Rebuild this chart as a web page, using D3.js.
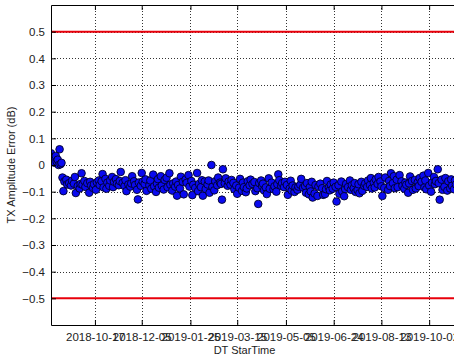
<!DOCTYPE html>
<html>
<head>
<meta charset="utf-8">
<script src="https://cdn.jsdelivr.net/npm/d3@7"></script>
<style>
  html, body { margin: 0; padding: 0; background: #fff; }
  svg { display: block; }
  text { font-family: "Liberation Sans", Arial, Helvetica, sans-serif; fill: #222; }
</style>
</head>
<body>
<svg id="chart" width="454" height="357"></svg>
<script>
// Daily TX amplitude error readings (dB) from the first run date; null = no run that day
const firstRun = "2018-09-01";
const txError = [
  0.044, 0.030, 0.019, 0.025, 0.008, 0.034, 0.012, 0.020, 0.000, 0.059, 0.003, 0.008,
  -0.047, -0.098, -0.062, null, -0.055, -0.073, null, -0.068, null, -0.077,
  -0.059, null, -0.070, -0.045, -0.105, null, -0.079, null, -0.088, -0.071,
  -0.031, -0.074, null, -0.060, -0.082, null, -0.068, null, -0.104, -0.063,
  -0.077, null, -0.086, -0.072, null, -0.093, -0.065, null, -0.058, -0.075,
  null, -0.061, -0.034, -0.084, null, -0.052, -0.089, -0.066, null, -0.078,
  -0.058, null, -0.045, -0.083, -0.063, null, -0.053, -0.070, null, -0.076,
  -0.060, -0.026, null, -0.067, null, -0.079, -0.057, -0.098, null, -0.073,
  null, -0.081, -0.069, -0.042, null, -0.061, -0.075, null, -0.093, -0.129,
  -0.066, null, -0.078, -0.030, -0.062, null, -0.071, -0.054, -0.097, null,
  null, -0.076, -0.058, -0.089, null, -0.036, -0.080, null, -0.101, -0.070,
  -0.053, -0.085, null, -0.042, -0.077, null, -0.092, -0.056, null, -0.048,
  -0.083, null, -0.031, -0.074, null, -0.096, -0.069, null, -0.081, -0.062,
  -0.115, -0.075, null, -0.088, -0.044, null, -0.063, -0.110, null, -0.054,
  -0.067, null, -0.038, -0.081, null, -0.060, -0.113, -0.074, null, -0.086,
  null, -0.030, -0.098, -0.071, null, -0.083, -0.057, -0.115, null, -0.062,
  -0.090, null, -0.073, -0.058, -0.104, null, 0.000, -0.082, null, -0.095,
  -0.061, null, -0.076, -0.047, null, -0.066, -0.071, -0.130, -0.016, null,
  -0.069, -0.050, null, -0.078, -0.062, null, -0.074, -0.056, null, -0.067,
  -0.091, null, -0.077, -0.108, null, -0.085, -0.052, null, -0.097, -0.066,
  -0.083, null, -0.102, -0.088, -0.061, null, -0.076, -0.055, null, -0.071,
  null, -0.064, -0.098, null, -0.087, -0.146, -0.068, null, -0.058, -0.079,
  -0.070, -0.095, null, -0.084, -0.109, null, -0.050, -0.089, null, -0.066,
  null, -0.091, -0.080, null, -0.100, -0.072, -0.035, -0.057, null, -0.078,
  -0.068, null, -0.083, -0.063, null, -0.075, -0.112, null, -0.088, -0.059,
  -0.096, -0.077, null, -0.101, -0.084, null, -0.093, -0.081, null, -0.074,
  -0.052, null, -0.085, null, -0.079, -0.104, -0.068, null, -0.110, -0.083,
  -0.099, -0.063, -0.122, null, -0.107, -0.075, null, -0.116, -0.081, null,
  -0.070, null, -0.087, -0.112, null, -0.109, -0.091, -0.060, null, -0.084,
  -0.095, -0.073, null, -0.089, -0.066, null, -0.082, -0.137, null, -0.076,
  -0.108, null, -0.062, -0.099, null, -0.117, -0.090, -0.071, null, -0.083,
  null, -0.058, -0.093, -0.076, null, -0.087, -0.068, -0.101, null, -0.094,
  -0.072, -0.106, null, -0.063, -0.097, null, -0.078, -0.069, null, -0.082,
  -0.058, null, -0.075, -0.049, -0.088, null, -0.066, -0.084, -0.054, null,
  -0.071, -0.045, null, -0.062, -0.080, -0.116, null, -0.086, -0.047, null,
  null, -0.093, -0.060, -0.079, -0.031, null, -0.068, -0.042, -0.087, null,
  -0.055, -0.083, null, -0.038, null, -0.061, -0.078, null, -0.089, -0.066,
  -0.074, null, -0.104, -0.069, -0.043, null, -0.060, -0.093, null, -0.056,
  -0.088, null, -0.065, -0.079, -0.049, null, -0.063, null, -0.040, -0.084,
  -0.058, -0.091, null, -0.030, -0.077, null, -0.100, -0.066, null, -0.045,
  -0.072, -0.060, null, -0.016, -0.068, -0.130, null, -0.055, -0.093, null,
  -0.082, -0.049, null, -0.096, -0.061, null, -0.088, -0.054, -0.078, null,
  -0.091, -0.058, -0.073
];

// Axis extents, ticks and tolerance limits
const xStart = "2018-09-01";
const xEnd = "2019-10-28";
const xTickLabels = ["2018-10-17", "2018-12-05", "2019-01-25", "2019-03-15",
                     "2019-05-05", "2019-06-24", "2019-08-13", "2019-10-02"];
const yRange = [-0.6, 0.6];
const yTicks = [-0.5, -0.4, -0.3, -0.2, -0.1, 0, 0.1, 0.2, 0.3, 0.4, 0.5];
const limits = [0.5, -0.5];

const parse = d3.utcParse("%Y-%m-%d");
const fmt = d3.utcFormat("%Y-%m-%d");
const day0 = parse(firstRun);
const points = txError
  .map((v, i) => ({ date: d3.utcDay.offset(day0, i), value: v }))
  .filter(d => d.value !== null);

const svg = d3.select("#chart");
const plotL = 51, plotR = 454, plotT = 5, plotB = 325;

const x = d3.scaleUtc().domain([parse(xStart), parse(xEnd)]).range([plotL, plotR]);
const y = d3.scaleLinear().domain(yRange).range([plotB, plotT]);
const xTicks = xTickLabels.map(parse);

svg.append("defs").append("clipPath").attr("id", "plotClip")
  .append("rect").attr("x", plotL).attr("y", plotT)
  .attr("width", plotR - plotL).attr("height", plotB - plotT);

// dotted grid
const grid = svg.append("g").attr("stroke", "#333").attr("stroke-width", 1)
  .attr("stroke-dasharray", "1,2");
grid.selectAll("line.gx").data(xTicks).join("line")
  .attr("x1", d => Math.round(x(d)) + 0.5).attr("x2", d => Math.round(x(d)) + 0.5)
  .attr("y1", plotT).attr("y2", plotB);
grid.selectAll("line.gy").data(yTicks).join("line")
  .attr("y1", d => Math.round(y(d)) + 0.5).attr("y2", d => Math.round(y(d)) + 0.5)
  .attr("x1", plotL).attr("x2", plotR);

// tolerance limits
svg.append("g").selectAll("line").data(limits).join("line")
  .attr("x1", plotL).attr("x2", plotR)
  .attr("y1", d => y(d)).attr("y2", d => y(d))
  .attr("stroke", "#e8000b").attr("stroke-width", 2);

// measurements
svg.append("g").attr("clip-path", "url(#plotClip)")
  .selectAll("circle").data(points).join("circle")
  .attr("cx", d => x(d.date)).attr("cy", d => y(d.value))
  .attr("r", 3.8)
  .attr("fill", "#0a0af0").attr("stroke", "#000028").attr("stroke-width", 0.9);

// axes (ticks drawn inward)
const xAxis = svg.append("g").attr("transform", `translate(0,${plotB})`)
  .call(d3.axisBottom(x).tickValues(xTicks).tickFormat(fmt).tickSizeInner(-5).tickSizeOuter(0).tickPadding(8));
const xTop = svg.append("g").attr("transform", `translate(0,${plotT})`)
  .call(d3.axisTop(x).tickValues(xTicks).tickFormat("").tickSizeInner(-5).tickSizeOuter(0));
const yAxis = svg.append("g").attr("transform", `translate(${plotL},0)`)
  .call(d3.axisLeft(y).tickValues(yTicks).tickFormat(d => d3.format("")(+d.toFixed(1))).tickSizeInner(-5).tickSizeOuter(0).tickPadding(6));

[xAxis, xTop, yAxis].forEach(g => {
  g.select(".domain").attr("stroke", "#000");
  g.selectAll(".tick line").attr("stroke", "#000");
  g.selectAll(".tick text").attr("font-size", "11.5px").attr("fill", "#222")
    .attr("font-family", "'Liberation Sans', Arial, sans-serif");
});

svg.append("text").attr("x", (plotL + plotR) / 2 - 8).attr("y", 354)
  .attr("text-anchor", "middle").attr("font-size", "11px").text("DT StarTime");
svg.append("text")
  .attr("transform", `translate(15,${(plotT + plotB) / 2}) rotate(-90)`)
  .attr("text-anchor", "middle").attr("font-size", "11px").text("TX Amplitude Error (dB)");
</script>
</body>
</html>
